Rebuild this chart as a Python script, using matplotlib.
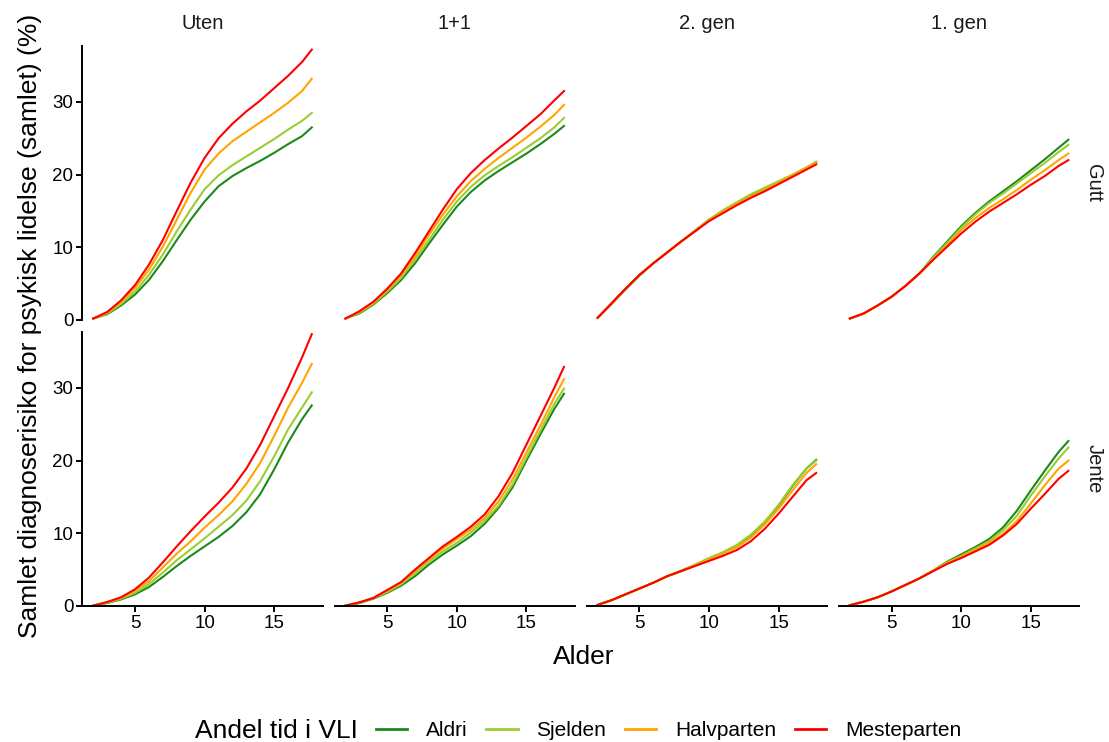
import matplotlib
matplotlib.use("Agg")
import matplotlib.pyplot as plt
from matplotlib.lines import Line2D

plt.rcParams['font.family'] = ['Liberation Sans', 'DejaVu Sans']

ages = [2, 3, 4, 5, 6, 7, 8, 9, 10, 11, 12, 13, 14, 15, 16, 17, 17.7]

groups = ['Aldri', 'Sjelden', 'Halvparten', 'Mesteparten']
colours = ['#1b8a1b', '#9acd32', '#ffa500', '#ff0000']
columns = ['Uten', '1+1', '2. gen', '1. gen']
rows = ['Gutt', 'Jente']

# each panel: Aldri, Sjelden, Halvparten, Mesteparten
uten_gutt = [
    [0.2, 0.8, 2.0, 3.5, 5.5, 8.1, 11.0, 13.8, 16.3, 18.4, 19.8, 20.9, 21.9, 23.0, 24.2, 25.3, 26.5],
    [0.2, 0.9, 2.2, 3.9, 6.2, 9.0, 12.2, 15.2, 18.0, 19.9, 21.3, 22.5, 23.7, 24.9, 26.2, 27.4, 28.5],
    [0.2, 1.0, 2.5, 4.4, 6.9, 10.1, 13.8, 17.5, 20.7, 22.9, 24.6, 25.9, 27.2, 28.5, 29.9, 31.5, 33.2],
    [0.2, 1.1, 2.7, 4.8, 7.6, 11.0, 15.0, 18.9, 22.3, 25.0, 27.0, 28.7, 30.2, 31.9, 33.6, 35.5, 37.2],
]
enpluss_gutt = [
    [0.2, 0.9, 2.1, 3.7, 5.5, 7.8, 10.5, 13.1, 15.6, 17.6, 19.2, 20.5, 21.7, 22.9, 24.2, 25.6, 26.7],
    [0.2, 1.0, 2.2, 3.9, 5.8, 8.3, 11.0, 13.8, 16.3, 18.3, 19.9, 21.2, 22.4, 23.7, 25.0, 26.5, 27.8],
    [0.2, 1.1, 2.4, 4.1, 6.2, 8.7, 11.7, 14.5, 17.0, 19.1, 20.8, 22.3, 23.7, 25.1, 26.6, 28.2, 29.6],
    [0.2, 1.2, 2.5, 4.3, 6.4, 9.2, 12.2, 15.2, 18.0, 20.2, 22.0, 23.6, 25.1, 26.7, 28.3, 30.2, 31.5],
]
gen2_gutt = [
    [0.3, 2.2, 4.2, 6.1, 7.8, 9.3, 10.8, 12.3, 13.8, 15.0, 16.1, 17.1, 18.0, 19.0, 19.9, 20.9, 21.7],
    [0.3, 2.3, 4.3, 6.2, 7.8, 9.3, 10.8, 12.3, 13.8, 15.1, 16.2, 17.3, 18.2, 19.1, 20.0, 21.0, 21.8],
    [0.3, 2.3, 4.3, 6.2, 7.8, 9.3, 10.8, 12.2, 13.7, 14.9, 16.0, 17.0, 17.9, 18.9, 19.9, 20.9, 21.6],
    [0.3, 2.3, 4.3, 6.2, 7.8, 9.3, 10.8, 12.2, 13.6, 14.7, 15.8, 16.8, 17.7, 18.7, 19.7, 20.7, 21.4],
]
gen1_gutt = [
    [0.2, 0.9, 2.0, 3.2, 4.7, 6.4, 8.7, 10.8, 12.9, 14.7, 16.3, 17.7, 19.1, 20.6, 22.1, 23.7, 24.8],
    [0.2, 0.9, 2.0, 3.2, 4.7, 6.4, 8.6, 10.6, 12.7, 14.5, 16.1, 17.4, 18.8, 20.2, 21.6, 23.1, 24.1],
    [0.2, 0.9, 2.0, 3.2, 4.7, 6.4, 8.4, 10.3, 12.4, 14.0, 15.4, 16.6, 17.9, 19.3, 20.6, 22.0, 22.9],
    [0.2, 0.9, 2.0, 3.2, 4.7, 6.4, 8.3, 10.1, 11.9, 13.5, 14.9, 16.1, 17.3, 18.6, 19.8, 21.2, 22.0],
]
uten_jente = [
    [0.05, 0.4, 0.9, 1.6, 2.6, 4.0, 5.5, 6.9, 8.2, 9.5, 11.0, 12.9, 15.4, 18.8, 22.5, 25.7, 27.6],
    [0.05, 0.45, 1.0, 1.8, 3.0, 4.6, 6.3, 7.8, 9.3, 10.9, 12.5, 14.5, 17.2, 20.6, 24.3, 27.3, 29.4],
    [0.05, 0.5, 1.1, 2.1, 3.4, 5.3, 7.2, 8.9, 10.8, 12.5, 14.4, 16.8, 19.7, 23.4, 27.3, 30.7, 33.3],
    [0.05, 0.55, 1.2, 2.3, 3.9, 6.0, 8.2, 10.3, 12.3, 14.2, 16.3, 18.9, 22.2, 26.1, 30.0, 34.2, 37.4],
]
enpluss_jente = [
    [0.05, 0.4, 1.0, 1.8, 2.8, 4.1, 5.7, 7.1, 8.3, 9.6, 11.3, 13.5, 16.3, 20.0, 23.6, 27.1, 29.2],
    [0.05, 0.45, 1.05, 1.9, 3.0, 4.5, 6.1, 7.5, 8.7, 10.1, 11.7, 13.8, 16.7, 20.4, 24.1, 27.8, 29.9],
    [0.05, 0.5, 1.1, 2.1, 3.2, 4.8, 6.4, 7.9, 9.2, 10.5, 12.1, 14.4, 17.4, 21.1, 24.8, 28.7, 31.2],
    [0.05, 0.5, 1.1, 2.2, 3.3, 5.0, 6.6, 8.2, 9.5, 10.9, 12.6, 15.1, 18.3, 22.2, 26.1, 30.0, 32.9],
]
gen2_jente = [
    [0.15, 0.8, 1.6, 2.4, 3.2, 4.1, 4.8, 5.6, 6.5, 7.3, 8.3, 9.7, 11.5, 13.8, 16.5, 18.9, 20.1],
    [0.15, 0.8, 1.6, 2.4, 3.2, 4.1, 4.9, 5.7, 6.6, 7.4, 8.4, 9.8, 11.6, 13.9, 16.6, 18.9, 20.0],
    [0.15, 0.8, 1.6, 2.4, 3.2, 4.1, 4.8, 5.6, 6.4, 7.2, 8.1, 9.4, 11.2, 13.4, 15.9, 18.3, 19.5],
    [0.15, 0.8, 1.6, 2.4, 3.2, 4.1, 4.8, 5.5, 6.2, 6.9, 7.7, 8.9, 10.6, 12.7, 15.0, 17.3, 18.3],
]
gen1_jente = [
    [0.1, 0.6, 1.2, 2.0, 2.9, 3.8, 4.9, 6.1, 7.1, 8.1, 9.2, 10.8, 13.1, 15.9, 18.6, 21.2, 22.7],
    [0.1, 0.6, 1.2, 2.0, 2.9, 3.8, 4.9, 6.0, 6.9, 7.9, 8.9, 10.4, 12.4, 15.2, 17.8, 20.3, 21.8],
    [0.1, 0.6, 1.2, 2.0, 2.9, 3.8, 4.9, 5.9, 6.8, 7.7, 8.7, 9.9, 11.7, 14.1, 16.6, 18.9, 20.0],
    [0.1, 0.6, 1.2, 2.0, 2.9, 3.8, 4.8, 5.8, 6.6, 7.5, 8.4, 9.7, 11.3, 13.4, 15.4, 17.5, 18.6],
]

panels = [
    [uten_gutt, enpluss_gutt, gen2_gutt, gen1_gutt],
    [uten_jente, enpluss_jente, gen2_jente, gen1_jente],
]

W, H = 1109, 742
fig = plt.figure(figsize=(W / 100, H / 100), dpi=100)

left0, step, pw = 82.3, 252.2, 240.4
tops = [46, 332]
ph = 274

for r in range(2):
    for c in range(4):
        x0 = left0 + c * step
        ax = fig.add_axes([x0 / W, 1 - (tops[r] + ph) / H, pw / W, ph / H])
        for vals, col in zip(panels[r][c], colours):
            ax.plot(ages, vals, color=col, lw=1.5, solid_joinstyle='round')
        ax.set_xlim(1.215, 18.485)
        ax.set_ylim(0, 37.7)
        ax.set_xticks([5, 10, 15])
        ax.set_yticks([0, 10, 20, 30])
        for s in ['top', 'right']:
            ax.spines[s].set_visible(False)
        ax.spines['left'].set_linewidth(1.4)
        ax.spines['bottom'].set_linewidth(1.4)
        ax.tick_params(width=1.4, length=4, labelsize=13.5, pad=2.5, colors='black')
        if c > 0:
            ax.spines['left'].set_visible(False)
            ax.tick_params(axis='y', left=False, labelleft=False)
        if r == 0:
            ax.spines['bottom'].set_visible(False)
            ax.tick_params(axis='x', bottom=False, labelbottom=False)
            ax.set_title(columns[c], fontsize=14.5, color='#1a1a1a', pad=12)
        if c == 3:
            ax.text(1.06, 0.5, rows[r], transform=ax.transAxes, rotation=270,
                    ha='center', va='center', fontsize=14.5, color='#1a1a1a')

fig.text(30 / W, 1 - 326 / H, 'Samlet diagnoserisiko for psykisk lidelse (samlet) (%)',
         rotation=90, ha='center', va='center', fontsize=19)
fig.text(584 / W, 1 - 657 / H, 'Alder', ha='center', va='center', fontsize=19)

fig.text(195 / W, 1 - 731 / H, 'Andel tid i VLI', ha='left', va='center', fontsize=19)
handles = [Line2D([], [], color=col, lw=2) for col in colours]
fig.legend(handles, groups, loc='center left', bbox_to_anchor=(376 / W, 1 - 731 / H),
           ncol=4, frameon=False, fontsize=15, handlelength=1.5, handletextpad=0.9,
           columnspacing=0.9, borderpad=0, borderaxespad=0)

fig.savefig('out.png', dpi=100)
